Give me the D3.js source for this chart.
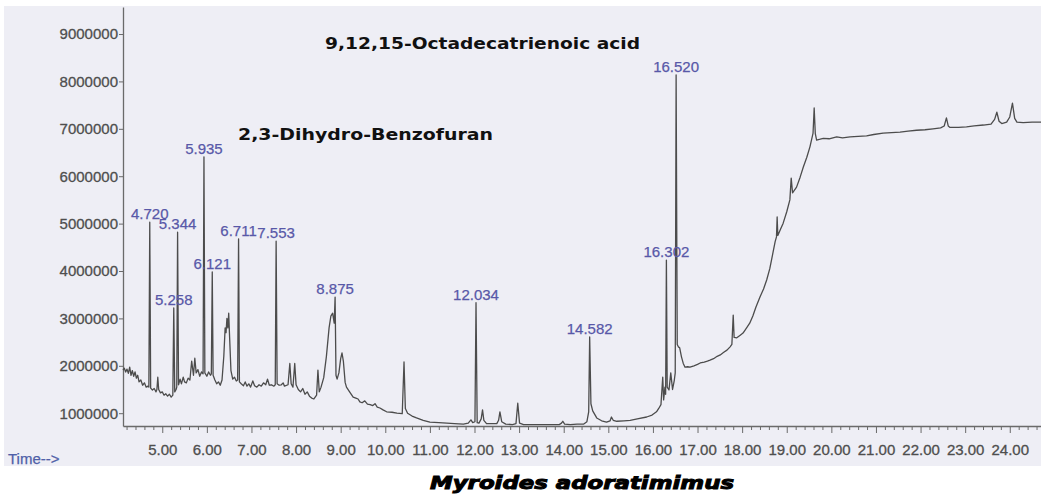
<!DOCTYPE html>
<html><head><meta charset="utf-8">
<script src="https://cdn.jsdelivr.net/npm/d3@7"></script>
<style>body{margin:0;background:#fff}svg{display:block}</style>
</head><body><svg id="c" width="1041" height="494"></svg>
<script>
// ---- data ----
const yTickValues = [1000000, 2000000, 3000000, 4000000, 5000000, 6000000, 7000000, 8000000, 9000000];
const xTickValues = [5, 6, 7, 8, 9, 10, 11, 12, 13, 14, 15, 16, 17, 18, 19, 20, 21, 22, 23, 24];
const peakTimes  = [4.720, 5.258, 5.344, 5.935, 6.121, 6.711, 7.553, 8.875, 12.034, 14.582, 16.302, 16.520];
const peakApex   = [5.03e6, 3.22e6, 4.82e6, 6.41e6, 3.98e6, 4.68e6, 4.63e6, 3.45e6, 3.33e6, 2.61e6, 4.23e6, 8.135e6];
const peakLabels = ["4.720", "5.258", "5.344", "5.935", "6.121", "6.711", "7.553", "8.875", "12.034", "14.582", "16.302", "16.520"];
const compoundNames = ["9,12,15-Octadecatrienoic acid", "2,3-Dihydro-Benzofuran"];
const chartTitle = "Myroides adoratimimus";
const axisTitle = "Time-->";
// total ion chromatogram: [retention time (min), abundance]
const tic = [
 [4.12,1.91e6],[4.15,1.95e6],[4.18,1.87e6],[4.21,1.93e6],[4.24,1.84e6],[4.27,1.97e6],[4.30,1.80e6],[4.33,1.90e6],
 [4.36,1.78e6],[4.39,1.87e6],[4.42,1.74e6],[4.45,1.80e6],[4.48,1.66e6],[4.52,1.70e6],[4.56,1.59e6],[4.60,1.64e6],
 [4.64,1.55e6],[4.68,1.57e6],[4.70,1.55e6],[4.72,5.03e6],[4.74,1.53e6],[4.78,1.49e6],[4.82,1.52e6],[4.86,1.45e6],
 [4.88,1.50e6],[4.90,1.76e6],[4.92,1.50e6],[4.96,1.43e6],[5.00,1.45e6],[5.04,1.38e6],[5.08,1.41e6],[5.12,1.36e6],
 [5.16,1.40e6],[5.20,1.34e6],[5.237,1.38e6],[5.258,3.22e6],[5.28,1.45e6],[5.31,1.50e6],[5.325,1.55e6],[5.344,4.82e6],
 [5.365,1.60e6],[5.40,1.72e6],[5.43,1.62e6],[5.47,1.76e6],[5.50,1.66e6],[5.54,1.64e6],[5.58,1.74e6],[5.62,1.70e6],
 [5.66,2.10e6],[5.70,1.80e6],[5.73,2.16e6],[5.76,1.85e6],[5.80,1.92e6],[5.84,1.78e6],[5.88,1.87e6],[5.915,1.83e6],
 [5.935,6.41e6],[5.955,1.85e6],[6.00,1.78e6],[6.04,1.87e6],[6.08,1.80e6],[6.10,1.83e6],[6.121,3.98e6],[6.14,1.80e6],
 [6.18,1.70e6],[6.22,1.62e6],[6.26,1.66e6],[6.30,1.59e6],[6.34,1.70e6],[6.38,2.20e6],[6.41,2.80e6],[6.43,2.70e6],
 [6.45,3.00e6],[6.47,2.80e6],[6.49,3.11e6],[6.51,2.60e6],[6.54,1.90e6],[6.58,1.72e6],[6.62,1.76e6],[6.66,1.68e6],
 [6.69,1.70e6],[6.711,4.68e6],[6.73,1.66e6],[6.77,1.62e6],[6.82,1.58e6],[6.86,1.66e6],[6.90,1.57e6],[6.94,1.62e6],
 [6.98,1.55e6],[7.03,1.68e6],[7.07,1.58e6],[7.12,1.55e6],[7.17,1.60e6],[7.22,1.57e6],[7.27,1.64e6],[7.32,1.60e6],
 [7.36,1.72e6],[7.40,1.59e6],[7.45,1.60e6],[7.50,1.57e6],[7.533,1.60e6],[7.553,4.63e6],[7.575,1.62e6],[7.62,1.59e6],
 [7.67,1.60e6],[7.71,1.64e6],[7.74,1.57e6],[7.82,1.60e6],[7.86,2.05e6],[7.89,1.62e6],[7.93,1.55e6],[7.97,2.05e6],
 [8.00,1.60e6],[8.05,1.50e6],[8.10,1.45e6],[8.15,1.52e6],[8.20,1.40e6],[8.25,1.45e6],[8.30,1.36e6],[8.35,1.32e6],
 [8.40,1.30e6],[8.46,1.38e6],[8.49,1.91e6],[8.52,1.45e6],[8.56,1.55e6],[8.62,1.75e6],[8.68,2.20e6],[8.74,2.80e6],
 [8.78,3.05e6],[8.82,3.11e6],[8.855,2.90e6],[8.875,3.45e6],[8.895,1.80e6],[8.92,1.72e6],[8.96,1.85e6],[9.00,2.15e6],
 [9.03,2.27e6],[9.06,2.10e6],[9.10,1.65e6],[9.13,1.55e6],[9.20,1.45e6],[9.28,1.34e6],[9.34,1.32e6],[9.39,1.30e6],
 [9.43,1.24e6],[9.48,1.22e6],[9.54,1.26e6],[9.60,1.19e6],[9.66,1.18e6],[9.72,1.16e6],[9.77,1.20e6],[9.82,1.13e6],
 [9.88,1.11e6],[9.95,1.07e6],[10.03,1.03e6],[10.15,1.02e6],[10.26,1.00e6],[10.38,0.99e6],[10.42,2.08e6],[10.45,1.10e6],
 [10.50,1.00e6],[10.60,0.94e6],[10.70,0.90e6],[10.85,0.85e6],[11.00,0.81e6],[11.20,0.80e6],[11.38,0.79e6],[11.55,0.78e6],
 [11.75,0.77e6],[11.86,0.79e6],[11.92,0.86e6],[11.96,0.80e6],[12.01,0.82e6],[12.034,3.33e6],[12.06,0.80e6],[12.10,0.79e6],
 [12.15,0.88e6],[12.18,1.07e6],[12.21,0.85e6],[12.27,0.78e6],[12.40,0.78e6],[12.50,0.78e6],[12.54,0.85e6],[12.57,1.03e6],
 [12.61,0.82e6],[12.70,0.77e6],[12.85,0.76e6],[12.93,0.78e6],[12.97,1.21e6],[13.01,0.79e6],[13.10,0.76e6],[13.30,0.76e6],
 [13.60,0.76e6],[13.90,0.76e6],[13.95,0.79e6],[13.98,0.83e6],[14.02,0.77e6],[14.15,0.76e6],[14.30,0.77e6],[14.45,0.77e6],
 [14.52,0.82e6],[14.56,1.03e6],[14.582,2.61e6],[14.61,1.20e6],[14.65,1.05e6],[14.74,0.90e6],[14.85,0.84e6],[14.96,0.81e6],
 [15.04,0.84e6],[15.07,0.92e6],[15.11,0.85e6],[15.19,0.83e6],[15.35,0.84e6],[15.49,0.85e6],[15.65,0.88e6],[15.86,0.92e6],
 [15.98,0.96e6],[16.08,1.03e6],[16.13,1.10e6],[16.18,1.18e6],[16.22,1.76e6],[16.24,1.28e6],[16.27,1.55e6],[16.285,1.40e6],
 [16.302,4.23e6],[16.32,1.55e6],[16.36,1.49e6],[16.40,1.85e6],[16.44,1.50e6],[16.48,1.70e6],[16.50,1.85e6],[16.52,8.135e6],
 [16.545,2.45e6],[16.57,2.40e6],[16.60,2.38e6],[16.64,2.19e6],[16.68,2.05e6],[16.72,1.97e6],[16.78,1.98e6],[16.83,1.97e6],
 [16.92,2.00e6],[17.00,2.03e6],[17.06,2.06e6],[17.15,2.08e6],[17.22,2.10e6],[17.28,2.12e6],[17.36,2.15e6],[17.44,2.20e6],
 [17.51,2.23e6],[17.58,2.28e6],[17.66,2.33e6],[17.73,2.40e6],[17.77,2.45e6],[17.80,3.07e6],[17.82,2.60e6],[17.88,2.59e6],
 [17.95,2.64e6],[18.02,2.69e6],[18.10,2.80e6],[18.17,2.90e6],[18.24,3.05e6],[18.31,3.24e6],[18.40,3.45e6],[18.48,3.62e6],
 [18.55,3.81e6],[18.62,4.05e6],[18.69,4.38e6],[18.74,4.62e6],[18.77,4.72e6],[18.785,5.14e6],[18.80,4.75e6],[18.86,4.88e6],
 [18.92,5.01e6],[19.00,5.25e6],[19.07,5.50e6],[19.10,5.96e6],[19.13,5.65e6],[19.22,5.77e6],[19.30,5.98e6],[19.37,6.19e6],
 [19.45,6.40e6],[19.52,6.62e6],[19.59,6.91e6],[19.615,7.44e6],[19.64,6.90e6],[19.67,6.76e6],[19.75,6.78e6],[19.82,6.80e6],
 [19.95,6.79e6],[20.12,6.83e6],[20.25,6.81e6],[20.42,6.83e6],[20.60,6.84e6],[20.79,6.85e6],[20.95,6.88e6],[21.16,6.91e6],
 [21.35,6.92e6],[21.54,6.93e6],[21.72,6.95e6],[21.91,6.97e6],[22.10,6.98e6],[22.28,7.00e6],[22.45,7.02e6],[22.53,7.06e6],
 [22.58,7.23e6],[22.62,7.06e6],[22.66,7.03e6],[22.85,7.03e6],[23.03,7.04e6],[23.20,7.06e6],[23.41,7.08e6],[23.58,7.10e6],
 [23.66,7.20e6],[23.71,7.35e6],[23.76,7.16e6],[23.82,7.11e6],[23.93,7.14e6],[24.00,7.25e6],[24.06,7.54e6],[24.11,7.22e6],
 [24.16,7.14e6],[24.30,7.13e6],[24.50,7.14e6],[24.70,7.14e6]
];

// ---- layout ----
const W = 1041, H = 494;
const svg = d3.select("#c");
const x = d3.scaleLinear().domain([4.12, 24.70]).range([123, 1041]);
const y = d3.scaleLinear().domain([0.73e6, 9.57e6]).range([426, 7]);

svg.append("rect").attr("x", 0).attr("y", 0).attr("width", W).attr("height", H).attr("fill", "#ffffff");
svg.append("rect").attr("x", 4).attr("y", 6).attr("width", W - 4).attr("height", 460).attr("fill", "#eeeef5");

const font = "'Liberation Sans', Arial, sans-serif";

// y axis
const gy = svg.append("g").attr("transform", `translate(${x.range()[0]},0)`)
  .call(d3.axisLeft(y).tickValues(yTickValues).tickFormat(d3.format("d")).tickSize(4).tickSizeOuter(0));
gy.select(".domain").attr("stroke", "#6a6a6a").attr("stroke-width", 1.3);
gy.selectAll(".tick line").attr("stroke", "#6a6a6a");
gy.selectAll(".tick text").attr("font-family", font).attr("font-size", 15).attr("fill", "#4e4e4e")
  .attr("stroke", "#4e4e4e").attr("stroke-width", 0.3).attr("x", -5);

// x axis (minor + major)
const minorTicks = d3.range(4.2, 24.7, 0.2).filter(v => Math.abs(v - Math.round(v)) > 1e-6);
const gxm = svg.append("g").attr("transform", `translate(0,${y.range()[0]})`)
  .call(d3.axisBottom(x).tickValues(minorTicks).tickFormat("").tickSize(4).tickSizeOuter(0));
gxm.select(".domain").attr("stroke", "#6a6a6a").attr("stroke-width", 1.3);
gxm.selectAll(".tick line").attr("stroke", "#6a6a6a");
const gx = svg.append("g").attr("transform", `translate(0,${y.range()[0]})`)
  .call(d3.axisBottom(x).tickValues(xTickValues).tickFormat(d3.format(".2f")).tickSize(7).tickSizeOuter(0));
gx.select(".domain").remove();
gx.selectAll(".tick line").attr("stroke", "#6a6a6a");
gx.selectAll(".tick text").attr("font-family", font).attr("font-size", 15).attr("fill", "#4e4e4e")
  .attr("stroke", "#4e4e4e").attr("stroke-width", 0.3).attr("y", 0).attr("dy", 29);

// trace
const line = d3.line().x(d => x(d[0])).y(d => y(d[1]));
svg.append("path").datum(tic).attr("d", line).attr("fill", "none")
  .attr("stroke", "#4c4c4c").attr("stroke-width", 1.3).attr("stroke-linejoin", "round");

// peak labels
svg.append("g").selectAll("text").data(peakTimes).join("text")
  .attr("x", d => x(d)).attr("y", (d, i) => y(peakApex[i]) - 3)
  .attr("text-anchor", "middle").attr("font-family", font).attr("font-size", 15)
  .attr("fill", "#5858a8").attr("stroke", "#5858a8").attr("stroke-width", 0.25)
  .text((d, i) => peakLabels[i]);

// compound annotations
svg.append("text").attr("x", 325).attr("y", 49).attr("font-family", "'DejaVu Sans', Verdana, sans-serif")
  .attr("font-weight", "bold").attr("font-size", 15.5).attr("fill", "#111")
  .attr("textLength", 315).attr("lengthAdjust", "spacingAndGlyphs").text(compoundNames[0]);
svg.append("text").attr("x", 238).attr("y", 140).attr("font-family", "'DejaVu Sans', Verdana, sans-serif")
  .attr("font-weight", "bold").attr("font-size", 15.5).attr("fill", "#111")
  .attr("textLength", 255).attr("lengthAdjust", "spacingAndGlyphs").text(compoundNames[1]);

// axis title
svg.append("text").attr("x", 8).attr("y", 464).attr("font-family", font).attr("font-size", 15)
  .attr("fill", "#4f5fa8").attr("stroke", "#4f5fa8").attr("stroke-width", 0.25).text(axisTitle);

// chart title
svg.append("text").attr("x", 430).attr("y", 489).attr("font-family", "'DejaVu Sans', Verdana, sans-serif")
  .attr("font-weight", "bold").attr("font-style", "italic").attr("font-size", 18).attr("fill", "#000")
  .attr("stroke", "#000").attr("stroke-width", 1)
  .attr("textLength", 304).attr("lengthAdjust", "spacingAndGlyphs").text(chartTitle);
</script></body></html>
